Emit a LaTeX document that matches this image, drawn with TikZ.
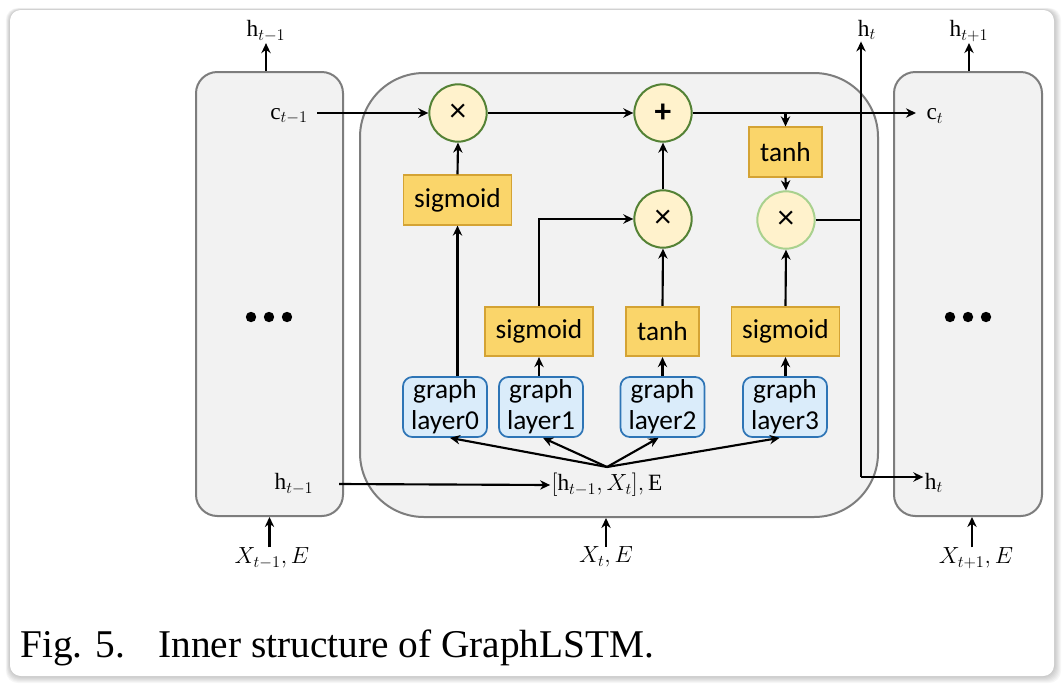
\RequirePackage{fix-cm}
\documentclass[tikz,border=0pt]{standalone}
\usepackage{fontspec}
\setmainfont{Liberation Serif}
\newfontfamily\boxfont{Carlito}
\usetikzlibrary{arrows.meta}
\definecolor{boxfill}{RGB}{242,242,242}
\definecolor{boxline}{RGB}{125,125,125}
\definecolor{yfill}{RGB}{250,213,106}
\definecolor{yline}{RGB}{212,163,52}
\definecolor{bfill}{RGB}{218,236,250}
\definecolor{bline}{RGB}{46,117,182}
\definecolor{cfill}{RGB}{255,242,204}
\definecolor{cline}{RGB}{84,130,53}
\definecolor{clight}{RGB}{169,209,142}
\begin{document}
\begin{tikzpicture}[x=0.75pt,y=-0.75pt,
  cell/.style={draw=boxline, fill=boxfill, line width=1.5pt, inner sep=0pt},
  act/.style={draw=yline, fill=yfill, line width=1.4pt, inner sep=0pt,
    minimum height=37pt, font=\boxfont\fontsize{20.5}{24}\selectfont},
  glayer/.style={draw=bline, fill=bfill, line width=1.3pt, rounded corners=7pt,
    inner sep=0pt, minimum width=63pt, minimum height=45pt, align=center,
    font=\boxfont\fontsize{20.5}{23}\selectfont},
  op/.style={circle, draw=cline, fill=cfill, line width=1.5pt, inner sep=0pt,
    minimum size=43pt, font=\boxfont\fontsize{25}{26}\selectfont},
  lbl/.style={inner sep=1pt, font=\fontsize{17.5}{21}\selectfont},
  arr/.style={-{Stealth[length=7.5pt,width=7pt]}, line width=1.6pt},
  wire/.style={line width=1.6pt}]

\useasboundingbox (0,0) rectangle (1064,686);
\fill[white] (0,0) rectangle (1064,686);

% card with a soft shadow
\foreach \i in {1,...,7}
  \fill[black, opacity=0.03, rounded corners=9pt]
    (10-0.6*\i,10-0.3*\i) rectangle (1054+\i,676+\i);
\fill[white, rounded corners=8pt] (10,10) rectangle (1054,676);

% the three time steps
\node[cell, rounded corners=16pt, minimum width=110.25pt, minimum height=333pt]
  (lbox) at (269.5,294) {};
\node[cell, rounded corners=48pt, minimum width=388.5pt, minimum height=333pt]
  (cbox) at (619,295) {};
\node[cell, rounded corners=16pt, minimum width=111pt, minimum height=333pt]
  (rbox) at (968,294) {};

% ellipsis in the neighbouring cells
\foreach \x in {251,269,287,950,968,986}
  \fill (\x,317) circle (3.9pt);

% gates
\node[op] (c1) at (458,113) {×};
\node[op] (plus) at (663,113) {\textbf{+}};
\node[op] (c2) at (663,219) {×};
\node[op, draw=clight] (c3) at (786,220) {×};

\node[act, minimum width=81pt] (s1) at (457.5,200) {sigmoid};
\node[act, minimum width=55pt] (th1) at (785.5,152) {tanh};
\node[act, minimum width=81pt] (s2) at (539,331.5) {sigmoid};
\node[act, minimum width=55pt] (th2) at (662.5,331.5) {tanh};
\node[act, minimum width=81pt] (s3) at (785.5,331.5) {sigmoid};

\node[glayer] (g0) at (445,407) {graph\\layer0};
\node[glayer] (g1) at (541,407) {graph\\layer1};
\node[glayer] (g2) at (662.5,407) {graph\\layer2};
\node[glayer] (g3) at (785,407) {graph\\layer3};

% labels
\node[lbl] (hprevtop) at (266,31) {$\mathrm{h}_{t-1}$};
\node[lbl] (htop) at (867,30) {$\mathrm{h}_{t}$};
\node[lbl] (hnexttop) at (969,31) {$\mathrm{h}_{t+1}$};
\node[lbl] (cprev) at (289,116) {$\mathrm{c}_{t-1}$};
\node[lbl] (cnow) at (935,116) {$\mathrm{c}_{t}$};
\node[lbl] (hprev) at (294,484) {$\mathrm{h}_{t-1}$};
\node[lbl] (hnow) at (934,483) {$\mathrm{h}_{t}$};
\node[lbl] (cat) at (607,485) {$[\mathrm{h}_{t-1},X_t],\mathrm{E}$};
\node[lbl] (xprev) at (272,558) {$X_{t-1},E$};
\node[lbl] (xnow) at (606,557) {$X_{t},E$};
\node[lbl] (xnext) at (976,558) {$X_{t+1},E$};

\coordinate (fan) at (607,467);
\coordinate (hb) at (861,477);
\coordinate (ctend) at (916,113);

% cell state path
\draw[arr] ([xshift=6pt]cprev.east |- c1) -- (c1.west);
\draw[arr] (c1.east) -- (plus.west);
\draw[arr] (plus.east) -- (ctend);
\draw[arr] (th1.north |- plus) -- (th1.north);
\draw[arr] (th1.south) -- (c3.north);

% gate inputs
\draw[arr] (s1.north) -- (c1.south);
\draw[arr] (s1.south |- g0.north) -- (s1.south);
\draw[arr] (s2.north) |- (c2.west);
\draw[arr] (g1.north -| s2) -- (s2.south);
\draw[arr] (c2.north) -- (plus.south);
\draw[arr] (th2.north) -- (c2.south);
\draw[arr] (g2.north -| th2) -- (th2.south);
\draw[arr] (s3.north) -- (c3.south);
\draw[arr] (g3.north -| s3) -- (s3.south);

% hidden state output
\draw[wire] (c3.east) -- (c3.east -| hb);
\draw[arr] (hb) -- (hb |- htop.south);
\draw[arr] (hb) -- (hb -| hnow.west);

% inputs to the graph layers
\draw[arr] (fan) -- ([xshift=3.75pt]g0.south);
\draw[arr] (fan) -- ([xshift=1.5pt]g1.south);
\draw[arr] (fan) -- ([xshift=-3pt]g2.south);
\draw[arr] (fan) -- ([xshift=-4pt]g3.south);
\draw[arr] ([xshift=18pt]hprev.east) -- (cat.west);

% external connections
\draw[arr] (lbox.north -| hprevtop) -- (hprevtop.south);
\draw[arr] (rbox.north -| hnexttop) -- (hnexttop.south);
\draw[arr] ([yshift=-1pt]xprev.north -| lbox) -- (lbox.south);
\draw[arr] ([yshift=-1pt]xnow.north) -- (xnow.north |- cbox.south);
\draw[arr] ([yshift=-1pt]xnext.north -| 972,0) -- (972,0 |- rbox.south);

% caption
\node[anchor=base west, inner sep=0pt, font=\fontsize{29.5}{34}\selectfont]
  (capnum) at (20,657) {Fig. 5.};
\node[anchor=base west, inner sep=0pt, font=\fontsize{29.5}{34}\selectfont]
  (captext) at (158,657) {Inner structure of GraphLSTM.};
\end{tikzpicture}
\end{document}
